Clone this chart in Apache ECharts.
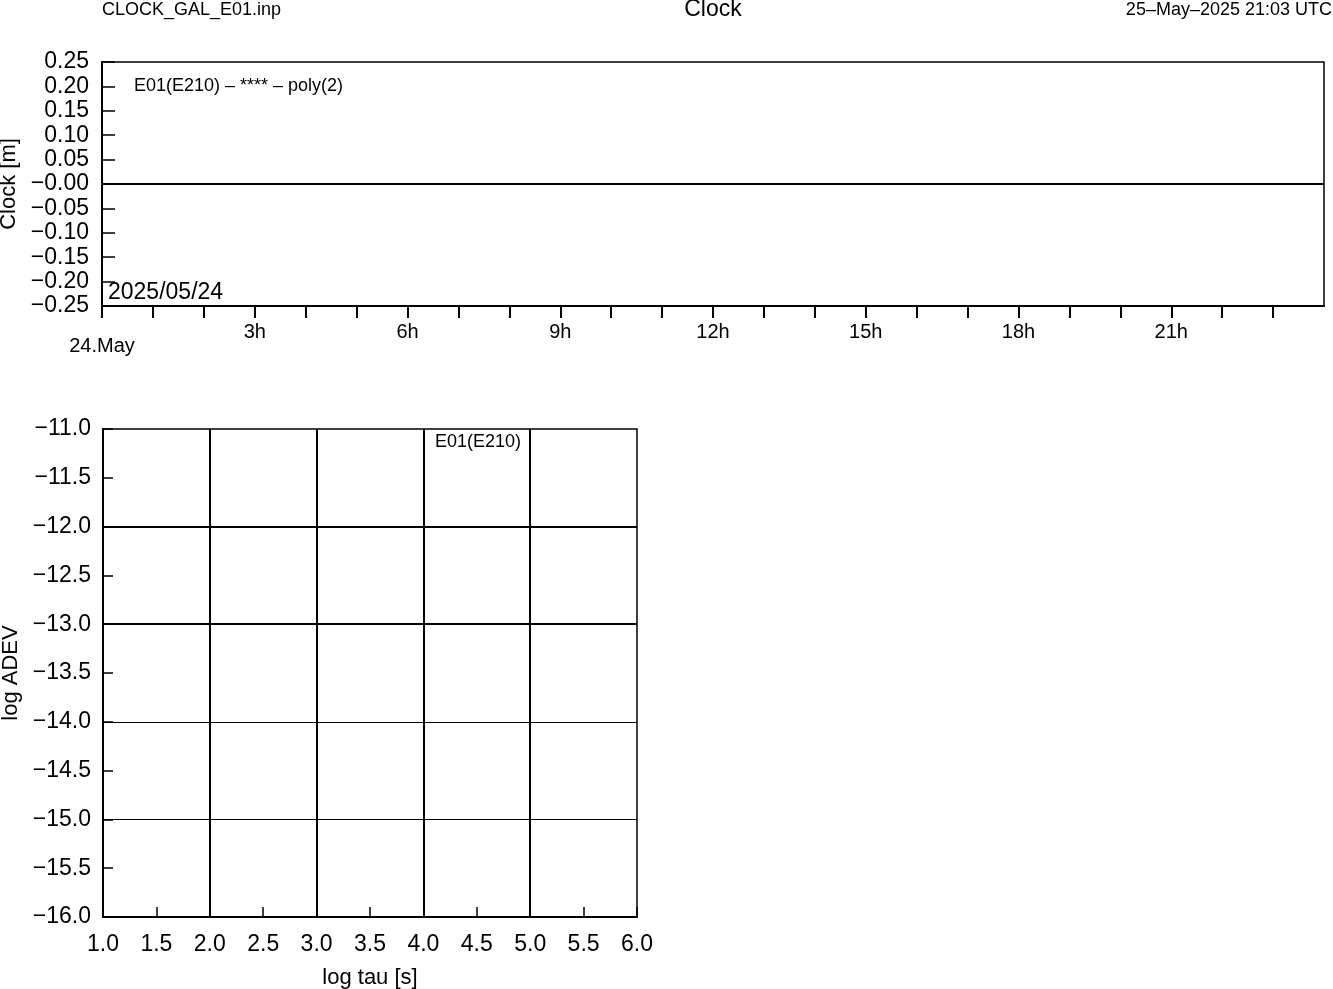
<!DOCTYPE html>
<html>
<head>
<meta charset="utf-8">
<script src="https://cdn.jsdelivr.net/npm/echarts@6/dist/echarts.min.js"></script>
<style>html,body{margin:0;padding:0;background:#fff}#c{width:1333px;height:989px}</style>
</head>
<body>
<div id="c"></div>
<script>
// ---- data ----
var clockHours = [0, 24];          // time span (hours of 24.May)
var clockValues = [0, 0];          // clock residual line [m]
var clockYTicks = [-0.25, 0.25, 0.05];
var timeLabelEvery = 3;            // hours
var adevXRange = [1, 6];
var adevYRange = [-16, -11];
var adevGridX = [2, 3, 4, 5];
var adevGridYThick = [-12, -13];
var adevGridYThin = [-14, -15];
var headerLeft = 'CLOCK_GAL_E01.inp';
var headerCenter = 'Clock';
var headerRight = '25\u2013May\u20132025 21:03 UTC';
var topNote = 'E01(E210) \u2013 **** \u2013 poly(2)';
var dateNote = '2025/05/24';
var adevNote = 'E01(E210)';

var FONT = 'Liberation Sans';
var M = '\u2212';

function fmt2(v){ v = Math.round(v*100)/100; return (v <= 0 ? M : '') + Math.abs(v).toFixed(2); }
function fmt1(v){ v = Math.round(v*10)/10; return (v < 0 ? M : '') + Math.abs(v).toFixed(1); }

var chart = echarts.init(document.getElementById('c'));

var gridMark = [];
adevGridX.forEach(function(x){ gridMark.push({xAxis: x, lineStyle:{width:2}}); });
adevGridYThick.forEach(function(y){ gridMark.push({yAxis: y, lineStyle:{width:2}}); });
adevGridYThin.forEach(function(y){ gridMark.push({yAxis: y, lineStyle:{width:1}}); });

chart.setOption({
  animation: false,
  backgroundColor: '#fff',
  textStyle: {fontFamily: FONT, color: '#000'},
  grid: [
    {left: 102, top: 62, width: 1222, height: 244, show: true, borderColor: '#000', borderWidth: 1.5,
     containLabel: false, outerBoundsMode: 'none'},
    {left: 103, top: 429, width: 534, height: 488, show: true, borderColor: '#000', borderWidth: 1.5,
     containLabel: false, outerBoundsMode: 'none'}
  ],
  xAxis: [
    {gridIndex: 0, type: 'value', min: clockHours[0], max: clockHours[1], interval: 1,
     axisLine: {onZero: false, lineStyle:{color:'#000', width:2}},
     axisTick: {inside: false, length: 12, lineStyle:{color:'#000', width:2}},
     splitLine: {show: false},
     axisLabel: {margin: 16, fontSize: 20, color:'#000', fontFamily: FONT, showMaxLabel: false,
       formatter: function(v){
         if (v === 0) return '{m|24.May}';
         return (v % timeLabelEvery === 0 && v < 24) ? v + 'h' : '';
       },
       rich: {m: {fontSize: 20, fontFamily: FONT, color:'#000', padding: [14, 0, 0, 0]}}
     }},
    {gridIndex: 1, type: 'value', min: adevXRange[0], max: adevXRange[1], interval: 0.5,
     name: 'log tau [s]', nameLocation: 'middle', nameGap: 50,
     nameTextStyle: {fontSize: 22, fontFamily: FONT, color:'#000'},
     axisLine: {onZero: false, lineStyle:{color:'#000', width:2}},
     axisTick: {inside: true, length: 10, lineStyle:{color:'#000', width:1.5}},
     splitLine: {show: false},
     axisLabel: {margin: 16, fontSize: 23, color:'#000', fontFamily: FONT, formatter: fmt1}}
  ],
  yAxis: [
    {gridIndex: 0, type: 'value', min: clockYTicks[0], max: clockYTicks[1], interval: clockYTicks[2],
     name: 'Clock [m]', nameLocation: 'middle', nameGap: 80,
     nameTextStyle: {fontSize: 22, fontFamily: FONT, color:'#000'},
     axisLine: {onZero: false, lineStyle:{color:'#000', width:2}},
     axisTick: {inside: true, length: 13, lineStyle:{color:'#000', width:1.5}},
     splitLine: {show: false},
     axisLabel: {margin: 13, fontSize: 23, color:'#000', fontFamily: FONT, formatter: fmt2}},
    {gridIndex: 1, type: 'value', min: adevYRange[0], max: adevYRange[1], interval: 0.5,
     name: 'log ADEV', nameLocation: 'middle', nameGap: 81,
     nameTextStyle: {fontSize: 22, fontFamily: FONT, color:'#000'},
     axisLine: {onZero: false, lineStyle:{color:'#000', width:2}},
     axisTick: {inside: true, length: 10, lineStyle:{color:'#000', width:1.5}},
     splitLine: {show: false},
     axisLabel: {margin: 12, fontSize: 23, color:'#000', fontFamily: FONT, formatter: fmt1}}
  ],
  series: [
    {type: 'line', xAxisIndex: 0, yAxisIndex: 0, symbol: 'none',
     data: clockHours.map(function(h, i){ return [h, clockValues[i]]; }),
     lineStyle: {color: '#000', width: 2}},
    {type: 'line', xAxisIndex: 1, yAxisIndex: 1, symbol: 'none', data: [],
     markLine: {silent: true, symbol: 'none', label: {show: false}, animation: false,
       lineStyle: {color: '#000', type: 'solid'}, data: gridMark}}
  ],
  graphic: [
    {type: 'text', left: 102, top: 1, style: {text: headerLeft, font: '18px "Liberation Sans"', fill: '#000'}},
    {type: 'text', x: 713, y: -2, style: {text: headerCenter, font: '23px "Liberation Sans"', fill: '#000', textAlign: 'center'}},
    {type: 'text', right: 1, top: 1, style: {text: headerRight, font: '18px "Liberation Sans"', fill: '#000'}},
    {type: 'text', left: 134, top: 77, style: {text: topNote, font: '18px "Liberation Sans"', fill: '#000'}},
    {type: 'text', left: 108, top: 281, style: {text: dateNote, font: '23px "Liberation Sans"', fill: '#000'}},
    {type: 'text', left: 435, top: 433, style: {text: adevNote, font: '18px "Liberation Sans"', fill: '#000'}}
  ]
});
</script>
</body>
</html>
